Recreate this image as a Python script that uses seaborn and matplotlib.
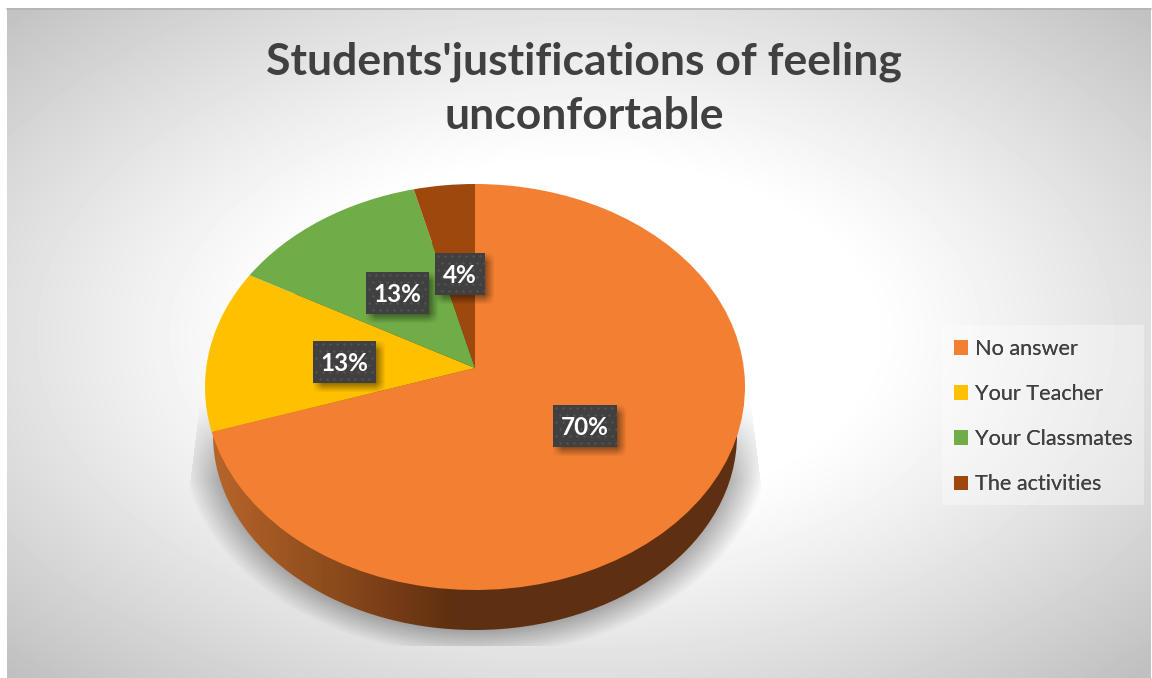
import numpy as np
import matplotlib
matplotlib.use("Agg")
import matplotlib.pyplot as plt
import seaborn as sns
from matplotlib.colors import LinearSegmentedColormap
from matplotlib.patches import Ellipse, Rectangle

title = "Students'justifications of feeling\nunconfortable"
categories = ["No answer", "Your Teacher", "Your Classmates", "The activities"]
values = [70, 13, 13, 4]
pct_labels = ["70%", "13%", "13%", "4%"]
colors = ["#F27F32", "#FFC000", "#70AD47", "#9E480E"]

W, H = 1152, 678
CX, CY, RX, RY = 475, 387, 270, 203   # top face ellipse, pixels
APEX_Y = 368                          # tilted pie, centre sits above the ellipse centre
LOW_CY, LOW_RX, LOW_RY = 435, 262, 195  # underside of the pie
label_boxes = [(553, 405, 64, 42), (313, 341, 63, 42), (366, 272, 63, 42), (435, 253, 50, 42)]

sns.set_theme(style="white")
plt.rcParams["font.family"] = ["Lato", "DejaVu Sans"]
palette = sns.color_palette(colors)

fig = plt.figure(figsize=(W / 100, H / 100), dpi=100, facecolor="white")

# background, shadow and side wall, in pixel coords
bg = fig.add_axes([0, 0, 1, 1], zorder=0)
bg.axis("off")

xx, yy = np.meshgrid(np.arange(7, 1151), np.arange(8, H))
d = np.hypot((xx - 575) / 575, (yy - 335) / 335) / np.sqrt(2)
shade = 1 - 0.25 * np.clip((d - 0.36) / 0.64, 0, 1) ** 1.15
bg.imshow(shade, cmap="gray", vmin=0, vmax=1, extent=(7, 1151, H, 8), aspect="auto", zorder=0)
bg.plot([7, 1151], [8.5, 8.5], color="#b4b4b4", lw=1.2, zorder=1)

# soft shadow under the pie
xs, ys = np.meshgrid(np.arange(185, 766), np.arange(380, 648))
e = np.hypot((xs - CX) / LOW_RX, (ys - LOW_CY) / LOW_RY)
fall = np.clip(1 - (e - 1) / 0.13, 0, 1)
fade_top = np.clip((ys - 400) / 80, 0, 1)
alpha = 0.30 * fall * fade_top
alpha[(np.abs(xs - CX) > 275 + np.clip(ys - 400, 0, 95) * 12 / 95) | (ys > 645)] = 0
rgba = np.zeros(xs.shape + (4,))
rgba[..., 3] = alpha
bg.imshow(rgba, extent=(185, 766, 648, 380), aspect="auto", zorder=2)

# side wall of the pie
wall_cmap = LinearSegmentedColormap.from_list(
    "wall", [(0, "#B8672C"), (0.09, "#A85C24"), (0.244, "#8A4A1C"), (0.367, "#733A15"),
             (0.46, "#5E2F11"), (1, "#5E2F11")])
im = bg.imshow(np.linspace(0, 1, 540)[None, :], cmap=wall_cmap, vmin=0, vmax=1,
               extent=(205, 745, 640, 230), aspect="auto", zorder=3)
bg.set_xlim(0, W)
bg.set_ylim(H, 0)
clip = Ellipse((CX, LOW_CY), 2 * LOW_RX, 2 * LOW_RY, transform=bg.transData)
im.set_clip_path(clip)

# pie top face
ax = fig.add_axes([(CX - RX) / W, (H - CY - RY) / H, 2 * RX / W, 2 * RY / H], zorder=1)
wedges, _ = ax.pie(values, colors=palette, startangle=90, counterclock=False, radius=1,
                   wedgeprops={"clip_on": False, "linewidth": 0})
ax.set_aspect("auto")
ax.set_xlim(-1, 1)
ax.set_ylim(-1, 1)
# perspective tilt: keeps the rim on the ellipse and moves the centre up
a = (CY - APEX_Y) / RY
for w in wedges:
    v = w.get_path().vertices
    den = 1 + a * v[:, 1]
    new_x = v[:, 0] * np.sqrt(1 - a ** 2) / den
    new_y = (v[:, 1] + a) / den
    v[:, 0] = new_x
    v[:, 1] = new_y

# labels, legend and title
top = fig.add_axes([0, 0, 1, 1], zorder=2)
top.axis("off")
top.patch.set_alpha(0)


def box_shadow(x, y, w, h, off=4, blur=5):
    sx, sy = np.meshgrid(np.arange(x - 10, x + w + 20), np.arange(y - 10, y + h + 20))
    ax_ = np.clip((sx - (x + off - blur)) / (2 * blur), 0, 1) * np.clip(((x + w + off + blur) - sx) / (2 * blur), 0, 1)
    ay_ = np.clip((sy - (y + off - blur)) / (2 * blur), 0, 1) * np.clip(((y + h + off + blur) - sy) / (2 * blur), 0, 1)
    img = np.zeros(sx.shape + (4,))
    img[..., 3] = 0.45 * ax_ * ay_
    top.imshow(img, extent=(x - 10, x + w + 20, y + h + 20, y - 10), aspect="auto", zorder=1)


for (x, y, w, h), label in zip(label_boxes, pct_labels):
    box_shadow(x, y, w, h)
    top.add_patch(Rectangle((x, y), w, h, facecolor="#404040", edgecolor="none", zorder=2))
    dx, dy = np.meshgrid(np.arange(x + 3, x + w - 1, 7.0), np.arange(y + 3, y + h - 1, 7.0))
    dx = dx + 3.5 * (np.arange(dx.shape[0])[:, None] % 2)
    keep = dx < x + w - 1
    top.scatter(dx[keep], dy[keep], s=3, color="#545454", linewidths=0, zorder=3)
    top.text(x + w / 2, y + h / 2 + 1.5, label, color="white", fontsize=17.5, fontweight="bold",
             ha="center", va="center", zorder=4)

top.add_patch(Rectangle((942, 325), 202, 180, facecolor="white", alpha=0.35, edgecolor="none", zorder=1))
leg = top.legend(wedges, categories, loc="upper left", bbox_to_anchor=(954 / W, 1 - 339 / H),
                 frameon=False, fontsize=15.6, labelcolor="#404040", handlelength=0.65, handleheight=0.65,
                 handletextpad=0.3, labelspacing=1.16, borderpad=0, borderaxespad=0)
top.add_artist(leg)

top.text(584, 89, title, color="#404040", fontsize=32, fontweight="bold", ha="center", va="center",
         linespacing=1.42, zorder=5)
top.set_xlim(0, W)
top.set_ylim(H, 0)

fig.savefig("out.png", dpi=100)
